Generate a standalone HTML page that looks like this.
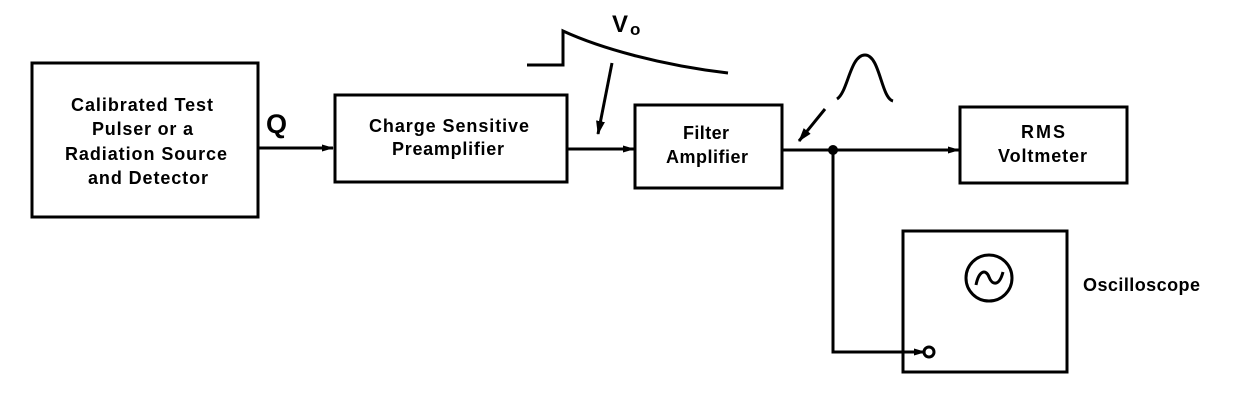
<!DOCTYPE html>
<html>
<head>
<meta charset="utf-8">
<style>
html,body{margin:0;padding:0;background:#fff;}
svg{display:block;}
text{font-family:"Liberation Sans",Arial,sans-serif;font-weight:bold;fill:#000;}
</style>
</head>
<body>
<svg width="1241" height="405" viewBox="0 0 1241 405" xmlns="http://www.w3.org/2000/svg">
<defs>
<marker id="ah" markerWidth="12" markerHeight="8" refX="11" refY="4" orient="auto" markerUnits="userSpaceOnUse">
<path d="M0,0.5 L12,4 L0,7.5 Z" fill="#000"/>
</marker>
<marker id="ah2" markerWidth="14" markerHeight="10" refX="13" refY="5" orient="auto" markerUnits="userSpaceOnUse">
<path d="M0,0.5 L14,5 L0,9.5 Z" fill="#000"/>
</marker>
</defs>
<g fill="none" stroke="#000" stroke-width="3">
<rect x="32" y="63" width="226" height="154"/>
<rect x="335" y="95" width="232" height="87"/>
<rect x="635" y="105" width="147" height="83"/>
<rect x="960" y="107" width="167" height="76"/>
<rect x="903" y="231" width="164" height="141"/>
<line x1="258" y1="148" x2="333" y2="148" marker-end="url(#ah)"/>
<line x1="567" y1="149" x2="634" y2="149" marker-end="url(#ah)"/>
<line x1="782" y1="150" x2="959" y2="150" marker-end="url(#ah)"/>
<polyline points="833,150 833,352 925,352" marker-end="url(#ah)"/>
<circle cx="929" cy="352" r="5"/>
<path d="M527,65 L563,65 L563,31 C600,48 660,65 728,73"/>
<line x1="612" y1="63" x2="598" y2="134" marker-end="url(#ah2)"/>
<path d="M837,99 C848,92 850,55 865,55 C880,55 881,98 893,101"/>
<line x1="825" y1="109" x2="799" y2="141" marker-end="url(#ah2)"/>
<circle cx="989" cy="278" r="23"/>
<path d="M976,285 C979,270 986,269 989,277 C992,285 999,287 1003,272"/>
</g>
<circle cx="833" cy="150" r="5" fill="#000"/>
<g font-size="18">
<text x="71" y="111" textLength="142">Calibrated Test</text>
<text x="92" y="135" textLength="101">Pulser or a</text>
<text x="65" y="160" textLength="162">Radiation Source</text>
<text x="88" y="184" textLength="120">and Detector</text>
<text x="369" y="132" textLength="160">Charge Sensitive</text>
<text x="392" y="155" textLength="112">Preamplifier</text>
<text x="683" y="139" textLength="46">Filter</text>
<text x="666" y="163" textLength="82">Amplifier</text>
<text x="1021" y="138" textLength="44">RMS</text>
<text x="998" y="162" textLength="89">Voltmeter</text>
<text x="1083" y="291" textLength="117">Oscilloscope</text>
</g>
<text x="266" y="133" font-size="27">Q</text>
<text x="612" y="32" font-size="24">V</text>
<text x="630" y="35" font-size="17">o</text>
</svg>
</body>
</html>
